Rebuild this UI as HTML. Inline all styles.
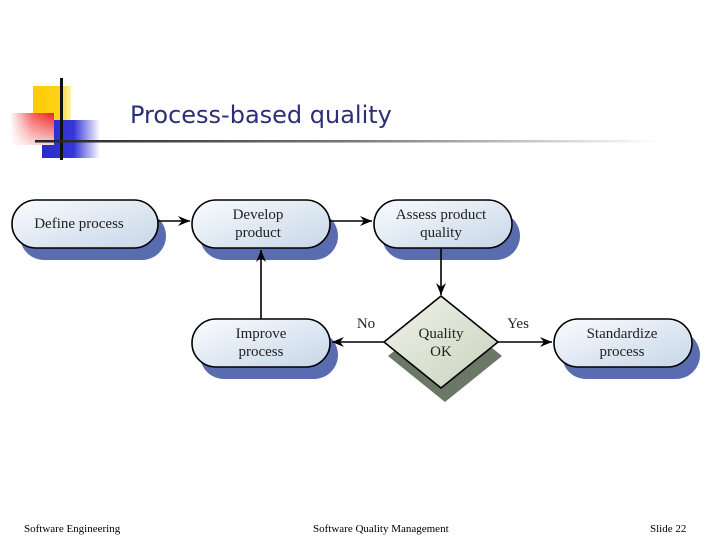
<!DOCTYPE html>
<html><head><style>body{margin:0;width:720px;height:540px;background:#fff;overflow:hidden}</style></head><body>
<svg width="720" height="540" xmlns="http://www.w3.org/2000/svg" font-family="Liberation Serif, serif">
<defs>
<linearGradient id="hl" x1="0" x2="1"><stop offset="0" stop-color="#222"/><stop offset="0.5" stop-color="#777"/><stop offset="1" stop-color="#fff"/></linearGradient>
<linearGradient id="rd" x1="0" x2="1"><stop offset="0" stop-color="#fff"/><stop offset="0.5" stop-color="#f56060"/><stop offset="1" stop-color="#e82020"/></linearGradient>
<linearGradient id="rd2" x1="0" x2="0" y1="0" y2="1"><stop offset="0" stop-color="#fff" stop-opacity="0"/><stop offset="1" stop-color="#fff" stop-opacity="0.8"/></linearGradient>
<linearGradient id="bl" x1="0" x2="1"><stop offset="0" stop-color="#2a2acc"/><stop offset="0.55" stop-color="#3838d8"/><stop offset="1" stop-color="#fff"/></linearGradient>
<linearGradient id="yl" x1="0" x2="1"><stop offset="0" stop-color="#ffcc00"/><stop offset="0.7" stop-color="#ffd21a"/><stop offset="1" stop-color="#fff2b0"/></linearGradient>
<linearGradient id="nd" x1="0" x2="1" y1="0" y2="1"><stop offset="0" stop-color="#fafcfe"/><stop offset="1" stop-color="#c6d6e8"/></linearGradient>
<linearGradient id="dm" x1="0" x2="1" y1="0" y2="1"><stop offset="0" stop-color="#f0f3ea"/><stop offset="1" stop-color="#c8d2bc"/></linearGradient>
<marker id="ar" viewBox="0 0 12 10" refX="12" refY="5" markerWidth="12" markerHeight="10" orient="auto" markerUnits="userSpaceOnUse"><path d="M0,0 L12,5 L0,10 L4,5 Z" fill="#000"/></marker>
</defs>
<rect x="33" y="86" width="38" height="36" fill="url(#yl)"/>
<rect x="42" y="120" width="58" height="38" fill="url(#bl)"/>
<rect x="10" y="113" width="44" height="32" fill="url(#rd)"/>
<rect x="10" y="113" width="44" height="32" fill="url(#rd2)"/>
<rect x="60" y="78" width="3" height="82" fill="#111"/>
<rect x="35" y="140" width="625" height="2.5" fill="url(#hl)"/>
<text x="130" y="123" font-family="DejaVu Sans, sans-serif" font-size="24" fill="#2e2e78">Process-based quality</text>

<g stroke="#000" stroke-width="1.6">
<rect x="20" y="212" width="146" height="48" rx="24" fill="#5a6cb0" stroke="none"/>
<rect x="200" y="212" width="138" height="48" rx="24" fill="#5a6cb0" stroke="none"/>
<rect x="382" y="212" width="138" height="48" rx="24" fill="#5a6cb0" stroke="none"/>
<rect x="200" y="331" width="138" height="48" rx="24" fill="#5a6cb0" stroke="none"/>
<rect x="562" y="331" width="138" height="48" rx="24" fill="#5a6cb0" stroke="none"/>
<path d="M445,310 L502,356 L445,402 L388,356 Z" fill="#6b7868" stroke="none"/>
<rect x="12" y="200" width="146" height="48" rx="24" fill="url(#nd)"/>
<rect x="192" y="200" width="138" height="48" rx="24" fill="url(#nd)"/>
<rect x="374" y="200" width="138" height="48" rx="24" fill="url(#nd)"/>
<rect x="192" y="319" width="138" height="48" rx="24" fill="url(#nd)"/>
<rect x="554" y="319" width="138" height="48" rx="24" fill="url(#nd)"/>
<path d="M441,296 L498,342 L441,388 L384,342 Z" fill="url(#dm)"/>
<line x1="158" y1="221" x2="190" y2="221" marker-end="url(#ar)"/>
<line x1="330" y1="221" x2="372" y2="221" marker-end="url(#ar)"/>
<line x1="441" y1="248" x2="441" y2="295" marker-end="url(#ar)"/>
<line x1="384" y1="342" x2="332" y2="342" marker-end="url(#ar)"/>
<line x1="498" y1="342" x2="552" y2="342" marker-end="url(#ar)"/>
<line x1="261" y1="319" x2="261" y2="250" marker-end="url(#ar)"/>
</g>
<g font-size="15" fill="#222" text-anchor="middle">
<text x="79" y="228">Define process</text>
<text x="258" y="219">Develop</text><text x="258" y="237">product</text>
<text x="441" y="219">Assess product</text><text x="441" y="237">quality</text>
<text x="261" y="338">Improve</text><text x="261" y="356">process</text>
<text x="441" y="338">Quality</text><text x="441" y="356">OK</text>
<text x="622" y="338">Standardize</text><text x="622" y="356">process</text>
<text x="366" y="328">No</text>
<text x="518" y="328">Yes</text>
</g>
<g font-size="11" fill="#000">
<text x="24" y="532">Software Engineering</text>
<text x="313" y="532">Software Quality Management</text>
<text x="650" y="532">Slide  22</text>
</g>
</svg>
</body></html>
